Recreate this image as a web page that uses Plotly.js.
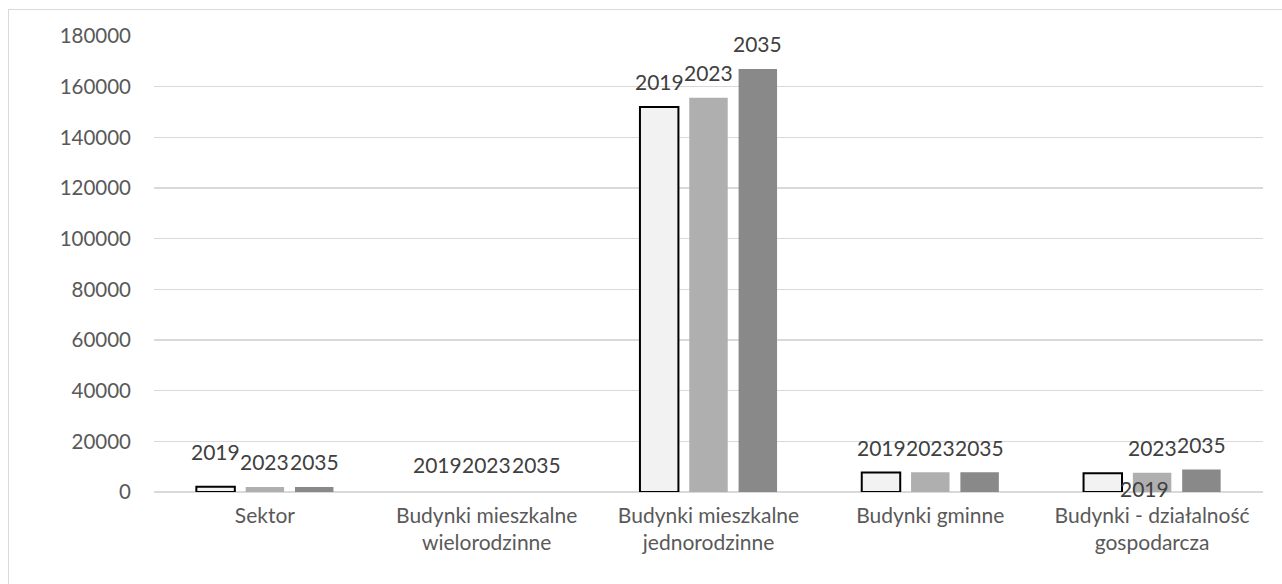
<!DOCTYPE html>
<html>
<head>
<meta charset="utf-8">
<script src="https://cdn.plot.ly/plotly-3.0.1.min.js"></script>
<style>
  html, body { margin: 0; padding: 0; width: 1282px; height: 584px; overflow: hidden; background: #fff; }
  #frame { position: absolute; left: 8px; top: 9px; width: 1400px; height: 700px; border: 1px solid #d9d9d9; box-sizing: border-box; }
  #chart { position: absolute; left: 0; top: 0; width: 1282px; height: 584px; }
</style>
</head>
<body>
<div id="frame"></div>
<div id="chart"></div>
<script>
// ---- data ----
const categories = [
  "Sektor",
  "Budynki mieszkalne<br>wielorodzinne",
  "Budynki mieszkalne<br>jednorodzinne",
  "Budynki gminne",
  "Budynki - działalność<br>gospodarcza"
];
const seriesNames = ["2019", "2023", "2035"];
const values2019 = [2100, 0, 152000, 7700, 7400];
const values2023 = [2000, 0, 155600, 7800, 7600];
const values2035 = [2000, 0, 167000, 7800, 8900];
const yTickValues = [0, 20000, 40000, 60000, 80000, 100000, 120000, 140000, 160000, 180000];

// ---- style ----
const fillColors = ["#f2f2f2", "#afafaf", "#898989"];
const lineColors = ["#000000", "#afafaf", "#898989"];
const lineWidths = [2, 0, 0];
const FONT = "Lato, 'Open Sans', sans-serif";
const slotPx = 49.3;         // horizontal distance between bars of a group
const labelLift = 25;        // label centre above bar top
// label nudges [series][category] = [dx, dy] (pixels), mimic overlap avoidance
const nudges = [
  [[0, 10], [0, 3], [0, 0], [0, 0], [42, -40]],
  [[0, 0], [0, 3], [0, 0], [0, 0], [0, 0]],
  [[0, 0], [0, 3], [0, 0], [0, 0], [0, 0]]
];

const allValues = [values2019, values2023, values2035];

const traces = allValues.map((vals, i) => ({
  type: "bar",
  name: seriesNames[i],
  x: categories,
  y: vals,
  marker: {
    color: fillColors[i],
    line: { color: lineColors[i], width: vals.map(v => (v > 0 ? lineWidths[i] : 0)) }
  },
  hoverinfo: "x+y+name"
}));

const annotations = [];
allValues.forEach((vals, i) => {
  vals.forEach((v, j) => {
    const n = nudges[i][j];
    annotations.push({
      x: categories[j], y: v, xref: "x", yref: "y",
      text: seriesNames[i],
      showarrow: false,
      xanchor: "center", yanchor: "middle",
      xshift: (i - 1) * slotPx + n[0],
      yshift: labelLift + n[1],
      font: { family: FONT, size: 21, color: "#404040" }
    });
  });
});

const layout = {
  width: 1282, height: 584,
  paper_bgcolor: "rgba(0,0,0,0)",
  plot_bgcolor: "rgba(0,0,0,0)",
  margin: { l: 154, r: 19, t: 36, b: 92, pad: 0 },
  barmode: "group",
  bargap: 0.333,
  bargroupgap: 0.22,
  showlegend: false,
  font: { family: FONT, size: 21, color: "#595959" },
  xaxis: {
    type: "category",
    showgrid: false,
    showline: false,
    zeroline: false,
    ticks: "",
    tickfont: { family: FONT, size: 21, color: "#595959" },
    ticklabelstandoff: 9,
    fixedrange: true
  },
  yaxis: {
    range: [0, 180000],
    tickvals: yTickValues,
    ticktext: yTickValues.map(String),
    showgrid: true,
    gridcolor: "#d9d9d9",
    gridwidth: 1.5,
    zeroline: true,
    zerolinecolor: "#d9d9d9",
    zerolinewidth: 1.5,
    showline: false,
    ticks: "",
    tickfont: { family: FONT, size: 20.5, color: "#595959" },
    ticklabelstandoff: 22,
    fixedrange: true
  },
  annotations: annotations
};

Plotly.newPlot("chart", traces, layout, { displayModeBar: false, staticPlot: true });
</script>
</body>
</html>
